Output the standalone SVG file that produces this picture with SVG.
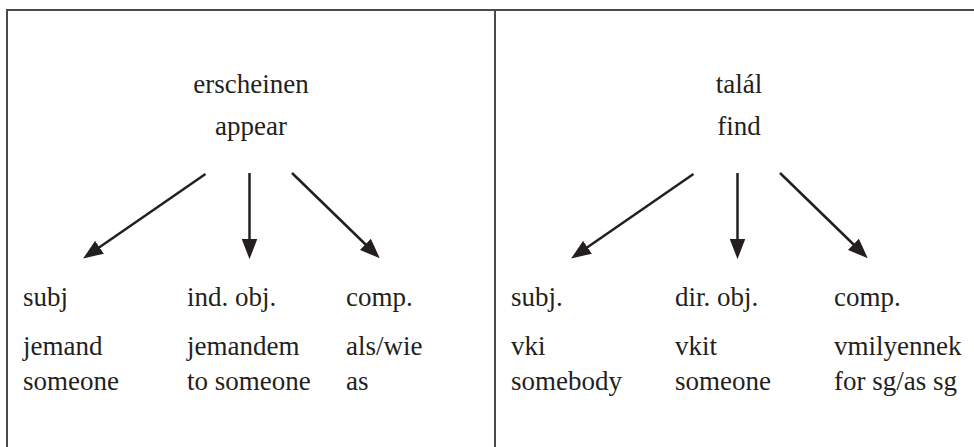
<svg xmlns="http://www.w3.org/2000/svg" width="974" height="447" viewBox="0 0 974 447">
<defs>
<style>
text{font-family:'Liberation Serif','Times New Roman',Times,'DejaVu Serif',serif;font-size:27px;fill:#231f20}
.c{text-anchor:middle}
.frame{stroke:#4a4a4a;stroke-width:2;fill:none}
.arr{stroke:#231f20;stroke-width:2.5;fill:none;marker-end:url(#ah)}
</style>
<marker id="ah" markerUnits="userSpaceOnUse" markerWidth="20" markerHeight="16" viewBox="0 0 18 14" refX="8" refY="7" orient="auto">
<path d="M0,0 L18,7 L0,14 z" fill="#231f20"/>
</marker>
</defs>
<rect width="974" height="447" fill="#fff"/>
<g id="frame">
<line class="frame" x1="6" y1="10" x2="974" y2="10"/>
<line class="frame" x1="7" y1="9" x2="7" y2="447"/>
<line class="frame" x1="495" y1="9" x2="495" y2="447"/>
</g>
<g font-family="Liberation Serif, Times New Roman, serif" font-size="27">
<g id="head-left"><text class="c" x="251" y="93">erscheinen</text><text class="c" x="251" y="135">appear</text></g>
<g id="head-right"><text class="c" x="739" y="93">talál</text><text class="c" x="739" y="135">find</text></g>
<g id="left-subj"><text x="23" y="306">subj</text><text x="23" y="355">jemand</text><text x="23" y="390">someone</text></g>
<g id="left-indobj"><text x="187" y="306">ind. obj.</text><text x="187" y="355">jemandem</text><text x="187" y="390">to someone</text></g>
<g id="left-comp"><text x="346" y="306">comp.</text><text x="346" y="355">als/wie</text><text x="346" y="390">as</text></g>
<g id="right-subj"><text x="511" y="306">subj.</text><text x="511" y="355">vki</text><text x="511" y="390">somebody</text></g>
<g id="right-dirobj"><text x="675" y="306">dir. obj.</text><text x="675" y="355">vkit</text><text x="675" y="390">someone</text></g>
<g id="right-comp"><text x="834" y="306">comp.</text><text x="834" y="355">vmilyennek</text><text x="834" y="390">for sg/as sg</text></g>
</g>
<g id="connectors">
<line class="arr" x1="205.5" y1="174" x2="92.2" y2="252.3"/>
<line class="arr" x1="249.5" y1="173" x2="249.5" y2="248"/>
<line class="arr" x1="292" y1="173" x2="371.8" y2="250.5"/>
<line class="arr" x1="693.5" y1="174" x2="580.2" y2="252.3"/>
<line class="arr" x1="737.5" y1="173" x2="737.5" y2="248"/>
<line class="arr" x1="780" y1="173" x2="859.8" y2="250.5"/>
</g>
</svg>
